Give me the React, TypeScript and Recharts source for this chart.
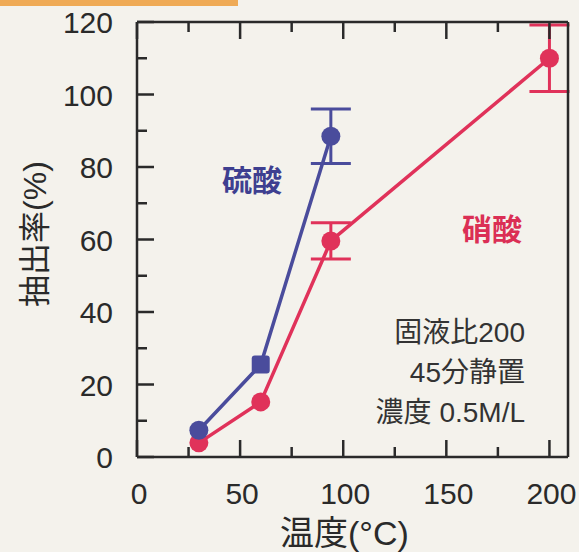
import React from 'react';
import { LineChart, Line, XAxis, YAxis, ErrorBar } from 'recharts';

// temperature (°C) and extraction rate (%)
const temps = [30, 60, 94, 200];
const sulfuric = [7.4, 25.5, 88.5, null];
const sulfuricErr = [0, 0, 7.5, 0];
const nitric = [3.9, 15.2, 59.6, 110];
const nitricErr = [0, 0, 5, 9.2];

const xTicks = [0, 25, 50, 75, 100, 125, 150, 175, 200];
const yTicks = [0, 10, 20, 30, 40, 50, 60, 70, 80, 90, 100, 110, 120];

const BLUE = '#4a4c9c';
const RED = '#e0325a';
const INK = '#2a2a2a';
const FONT = '"Liberation Sans", Arial, "Noto Sans CJK JP", sans-serif';

const data = temps.map((t, i) => ({
  temp: t,
  sulfuric: sulfuric[i],
  sulfuricErr: sulfuricErr[i],
  nitric: nitric[i],
  nitricErr: nitricErr[i],
}));

const BottomTick = (props: any) => {
  const { x, y, payload } = props;
  const major = payload.value % 50 === 0;
  return (
    <g>
      <line x1={x} y1={y} x2={x} y2={y - (major ? 17 : 10)} stroke={INK} strokeWidth={2.5} />
      {major && (
        <text x={x + 2} y={y + 47} textAnchor="middle" fontSize={30} fill={INK} fontFamily={FONT}>
          {payload.value}
        </text>
      )}
    </g>
  );
};

const TopTick = (props: any) => {
  const { x, y, payload } = props;
  const major = payload.value % 50 === 0;
  return <line x1={x} y1={y} x2={x} y2={y + (major ? 17 : 10)} stroke={INK} strokeWidth={2.5} />;
};

const LeftTick = (props: any) => {
  const { x, y, payload } = props;
  const major = payload.value % 20 === 0;
  return (
    <g>
      <line x1={x} y1={y} x2={x + (major ? 17 : 10)} y2={y} stroke={INK} strokeWidth={2.5} />
      {major && (
        <text x={x - 24} y={y + 11} textAnchor="end" fontSize={30} fill={INK} fontFamily={FONT}>
          {payload.value}
        </text>
      )}
    </g>
  );
};

const RightTick = (props: any) => {
  const { x, y, payload } = props;
  const major = payload.value % 20 === 0;
  return <line x1={x} y1={y} x2={x - (major ? 17 : 10)} y2={y} stroke={INK} strokeWidth={2.5} />;
};

const makeDot = (color: string, squareAt: number) => (p: any) => {
  const { cx, cy, index, value } = p;
  if (cx == null || cy == null || value == null) return <g key={`d-${index}`} />;
  if (index === squareAt) {
    return <rect key={`d-${index}`} x={cx - 9} y={cy - 9} width={18} height={18} rx={3} fill={color} />;
  }
  return <circle key={`d-${index}`} cx={cx} cy={cy} r={9.5} fill={color} />;
};

const textStyle: React.CSSProperties = {
  position: 'absolute',
  fontFamily: FONT,
  whiteSpace: 'nowrap',
};

export default function App() {
  return (
    <div style={{ position: 'absolute', left: 0, top: 0, width: 579, height: 552, background: '#f4f2ec', overflow: 'hidden' }}>
      <div style={{ position: 'absolute', left: 0, top: 0, width: 238, height: 6, background: '#efaa55' }} />
      <LineChart width={579} height={552} data={data} margin={{ top: 21, right: 10, bottom: 94, left: 37 }}>
        <XAxis
          dataKey="temp"
          type="number"
          domain={[0, 209]}
          ticks={xTicks}
          allowDataOverflow
          height={1}
          tickSize={0}
          tickMargin={0}
          tickLine={false}
          axisLine={{ stroke: INK, strokeWidth: 2.5 }}
          tick={<BottomTick />}
          interval={0}
        />
        <XAxis
          xAxisId="top"
          orientation="top"
          dataKey="temp"
          type="number"
          domain={[0, 209]}
          ticks={xTicks}
          allowDataOverflow
          height={1}
          tickSize={0}
          tickMargin={0}
          tickLine={false}
          axisLine={{ stroke: INK, strokeWidth: 2.5 }}
          tick={<TopTick />}
          interval={0}
        />
        <YAxis
          type="number"
          domain={[0, 120]}
          ticks={yTicks}
          width={100}
          tickSize={0}
          tickMargin={0}
          tickLine={false}
          axisLine={{ stroke: INK, strokeWidth: 2.5 }}
          tick={<LeftTick />}
          interval={0}
        />
        <YAxis
          yAxisId="right"
          orientation="right"
          type="number"
          domain={[0, 120]}
          ticks={yTicks}
          width={1}
          tickSize={0}
          tickMargin={0}
          tickLine={false}
          axisLine={{ stroke: INK, strokeWidth: 2.5 }}
          tick={<RightTick />}
          interval={0}
        />
        <Line
          dataKey="nitric"
          stroke={RED}
          strokeWidth={3.5}
          dot={makeDot(RED, -1)}
          activeDot={false}
          isAnimationActive={false}
        >
          <ErrorBar dataKey="nitricErr" direction="y" width={20} stroke={RED} strokeWidth={3} />
        </Line>
        <Line
          dataKey="sulfuric"
          stroke={BLUE}
          strokeWidth={3.5}
          dot={makeDot(BLUE, 1)}
          activeDot={false}
          isAnimationActive={false}
        >
          <ErrorBar dataKey="sulfuricErr" direction="y" width={20} stroke={BLUE} strokeWidth={3} />
        </Line>
      </LineChart>

      <div style={{ ...textStyle, left: 222, top: 156, fontSize: 30, fontWeight: 'bold', color: '#3e3f90' }}>硫酸</div>
      <div style={{ ...textStyle, left: 462, top: 205, fontSize: 30, fontWeight: 'bold', color: '#db2f55' }}>硝酸</div>

      <div style={{ ...textStyle, right: 54, top: 313, fontSize: 28, lineHeight: '40px', color: '#333', textAlign: 'right' }}>
        <div>固液比200</div>
        <div>45分静置</div>
        <div>濃度 0.5M/L</div>
      </div>

      <div style={{ ...textStyle, left: 280, top: 506, fontSize: 34, color: INK }}>温度(°C)</div>
      <div
        style={{
          ...textStyle,
          left: 32,
          top: 234,
          fontSize: 32,
          color: INK,
          transform: 'translate(-50%, -50%) rotate(-90deg)',
        }}
      >
        抽出率(%)
      </div>
    </div>
  );
}
